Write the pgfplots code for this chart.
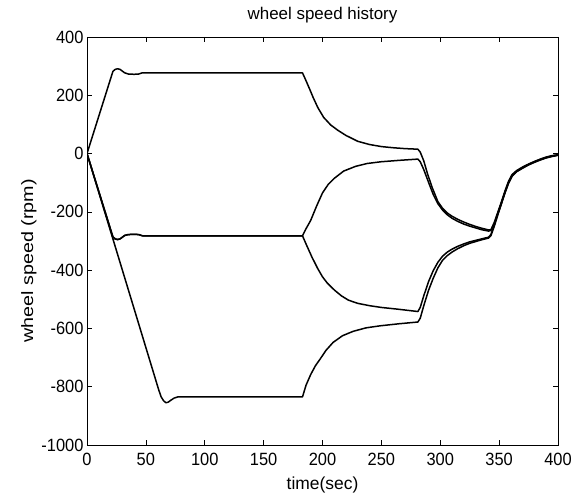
\documentclass[border=0pt]{standalone}
\usepackage{pgfplots}
\pgfplotsset{compat=1.18}
\usepackage{fontspec}
\setmainfont{Liberation Sans}
\begin{document}
\begin{tikzpicture}
\useasboundingbox (0,0) rectangle (584bp,497bp);
\begin{axis}[
  at={(87bp,52bp)}, anchor=south west,
  scale only axis, width=471bp, height=408bp,
  xmin=0, xmax=400, ymin=-1000, ymax=400,
  xtick={0,50,...,400}, ytick={-1000,-800,...,400},
  tick align=inside, major tick length=5bp,
  tick style={black, line width=0.7pt},
  axis line style={line width=0.8pt},
  ticklabel style={font=\fontsize{16.5}{18}\selectfont, yscale=1.08},
  xticklabel style={yshift=-4bp},
  /pgf/number format/assume math mode=true,
  /pgf/number format/1000 sep={},
  title={\fontsize{17}{19}\selectfont wheel speed history},
  title style={yshift=4bp},
  xlabel={time(sec)},
  xlabel style={font=\fontsize{17.5}{18}\selectfont, yshift=-4bp},
  ylabel={\scalebox{1.2}[1]{wheel speed (rpm)}},
  ylabel style={font=\fontsize{16.5}{18}\selectfont, yshift=-2bp, xshift=-20bp},
]
% wheel 1
\addplot[black, line width=1.5bp, line join=round] coordinates {(0,0) (22,282) (24,289) (26,291) (28,289) (30,283) (32,277) (35,273) (40,272) (44,273) (47,277) (183,277) (186,250) (189,222) (192,193) (196,158) (201,124) (207,98) (213,80) (220,62) (230,42) (240,31) (250,24) (260,20) (270,17) (281,15) (283,5) (286,-25) (289,-67) (293,-115) (298,-165) (302,-188) (306,-204) (310,-215) (315,-226) (320,-235) (325,-243) (330,-250) (335,-256) (341,-262) (343,-262) (346,-235) (349,-200) (352,-165) (355,-128) (358,-95) (361,-72) (365,-58) (370,-46) (375,-36) (380,-27) (385,-19) (390,-12) (395,-7) (400,-4)};
% wheel 2
\addplot[black, line width=1.5bp, line join=round] coordinates {(0,0) (22,-286) (24,-293) (26,-295) (28,-293) (30,-287) (32,-281) (35,-278) (40,-277) (44,-278) (47,-282) (183,-282) (186,-258) (190,-229) (195,-180) (200,-135) (205,-105) (210,-85) (218,-60) (228,-44) (238,-34) (250,-28) (266,-23) (281,-19) (283,-28) (286,-55) (290,-98) (294,-140) (298,-172) (302,-194) (306,-210) (310,-222) (315,-233) (320,-242) (325,-249) (330,-255) (335,-261) (341,-266) (343,-264) (346,-238) (349,-203) (352,-168) (355,-131) (358,-98) (361,-75) (365,-60) (370,-48) (375,-37) (380,-28) (385,-20) (390,-13) (395,-8) (400,-5)};
% wheel 3
\addplot[black, line width=1.5bp, line join=round] coordinates {(0,0) (22,-286) (24,-293) (26,-295) (28,-293) (30,-287) (32,-281) (35,-278) (40,-277) (44,-278) (47,-282) (183,-282) (186,-310) (191,-355) (196,-395) (200,-423) (204,-444) (210,-468) (216,-488) (222,-503) (230,-514) (240,-522) (250,-528) (264,-534) (281,-542) (283,-528) (286,-488) (290,-440) (294,-402) (298,-373) (302,-352) (306,-338) (310,-328) (315,-318) (320,-310) (325,-303) (330,-298) (335,-293) (341,-287) (343,-278) (346,-244) (349,-206) (352,-170) (355,-133) (358,-100) (361,-76) (365,-61) (370,-49) (375,-38) (380,-29) (385,-21) (390,-14) (395,-9) (400,-5)};
% wheel 4
\addplot[black, line width=1.5bp, line join=round] coordinates {(0,0) (61,-812) (63,-835) (65,-848) (67,-855) (69,-853) (71,-847) (74,-839) (77,-835) (183,-835) (186,-795) (190,-758) (194,-728) (198,-705) (203,-675) (209,-648) (217,-625) (226,-610) (237,-598) (249,-591) (265,-584) (281,-578) (283,-565) (286,-522) (290,-470) (294,-428) (298,-392) (302,-366) (306,-350) (310,-338) (315,-326) (320,-316) (325,-308) (330,-302) (335,-296) (341,-290) (343,-282) (346,-248) (349,-209) (352,-172) (355,-135) (358,-102) (361,-78) (365,-62) (370,-50) (375,-39) (380,-30) (385,-22) (390,-15) (395,-10) (400,-6)};
\end{axis}
\end{tikzpicture}
\end{document}
